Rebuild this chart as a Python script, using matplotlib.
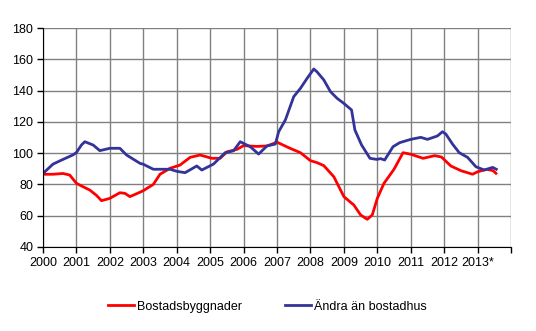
import matplotlib.pyplot as plt

plt.rcParams['font.family'] = ['Liberation Sans', 'DejaVu Sans']

# time in years (decimal), index values
red_t = [2000.0, 2000.3, 2000.6, 2000.8, 2001.0, 2001.2, 2001.4, 2001.6, 2001.75,
         2002.0, 2002.3, 2002.45, 2002.6, 2002.9, 2003.0, 2003.3, 2003.5, 2003.8,
         2004.1, 2004.4, 2004.7, 2005.05, 2005.3, 2005.5, 2005.8, 2006.0, 2006.4,
         2006.7, 2007.0, 2007.4, 2007.7, 2008.0, 2008.2, 2008.4, 2008.7, 2009.0,
         2009.3, 2009.5, 2009.7, 2009.85, 2010.0, 2010.2, 2010.5, 2010.77, 2011.0,
         2011.37, 2011.72, 2011.92, 2012.2, 2012.5, 2012.85, 2013.0, 2013.28,
         2013.46, 2013.55]
red_v = [86.5, 86.5, 87.0, 86.0, 80.7, 78.5, 76.4, 73.0, 69.6,
         71.1, 74.7, 74.3, 72.2, 75.0, 76.0, 80.0, 86.5, 90.3,
         92.4, 97.3, 98.8, 96.7, 96.7, 100.8, 102.4, 104.8, 104.3,
         104.6, 107.0, 103.0, 100.3, 95.2, 93.9, 92.0, 84.9, 72.2,
         66.8, 60.5, 57.7, 60.5, 71.1, 80.7, 89.7, 100.3, 99.3,
         96.7, 98.4, 97.5, 91.8, 88.8, 86.5, 88.1, 89.7,
         88.8, 87.1]

blue_t = [2000.0, 2000.3, 2000.6, 2000.9, 2001.0, 2001.15, 2001.25, 2001.5, 2001.7,
          2002.0, 2002.3, 2002.5, 2002.9, 2003.0, 2003.3, 2003.6, 2003.8, 2004.0,
          2004.25, 2004.6, 2004.75, 2005.1, 2005.45, 2005.7, 2005.9, 2006.2,
          2006.45, 2006.7, 2006.95, 2007.05, 2007.25, 2007.5, 2007.7, 2007.9,
          2008.1, 2008.2, 2008.4, 2008.6, 2008.8, 2009.0, 2009.23, 2009.33,
          2009.53, 2009.78, 2009.98, 2010.1, 2010.22, 2010.47, 2010.67, 2011.0,
          2011.3, 2011.5, 2011.8, 2011.95, 2012.05, 2012.25, 2012.45, 2012.7,
          2012.95, 2013.2, 2013.45, 2013.56]
blue_v = [87.0, 93.0, 96.0, 98.9, 100.4, 105.2, 107.3, 105.2, 101.6,
          103.1, 103.1, 98.8, 93.5, 92.9, 89.7, 89.7, 89.7, 88.4,
          87.5, 91.8, 89.2, 93.0, 100.3, 101.5, 107.3, 104.1,
          99.4, 104.6, 105.8, 113.7, 121.2, 136.1, 141.4, 147.8,
          153.8, 151.9, 146.8, 139.3, 135.0, 131.8, 127.6, 114.8,
          105.2, 96.7, 96.0, 96.5, 95.6, 104.1, 106.7, 108.8,
          110.1, 108.8, 111.0, 113.7, 112.2, 105.8, 100.3, 97.3,
          91.3, 89.2, 90.9, 89.7]

years = list(range(2000, 2015))
year_labels = [str(y) for y in range(2000, 2013)] + ['2013*', '']

fig = plt.figure(figsize=(5.36, 3.31), dpi=100)
ax = fig.add_axes([0.0802, 0.2538, 0.8732, 0.6616])

ax.plot(red_t, red_v, color='#ff0000', lw=2.0, label='Bostadsbyggnader')
ax.plot(blue_t, blue_v, color='#333399', lw=2.0, label='Ändra än bostadhus')

ax.set_xlim(2000, 2014)
ax.set_ylim(40, 180)
ax.set_xticks(years)
ax.set_xticklabels(year_labels)
ax.set_yticks(range(40, 181, 20))
ax.grid(True, color='#808080', lw=1.0)
ax.set_axisbelow(True)
for s in ['top', 'right']:
    ax.spines[s].set_visible(False)
ax.spines['left'].set_color('black')
ax.spines['bottom'].set_color('black')
ax.tick_params(axis='both', labelsize=9, length=4, width=1, pad=3)

fig.legend(loc='center', bbox_to_anchor=(0.499, 0.073), ncol=2, frameon=False,
           fontsize=9, handlelength=2.1, handletextpad=0.25, columnspacing=3.4)

fig.savefig('out.png', dpi=100)
